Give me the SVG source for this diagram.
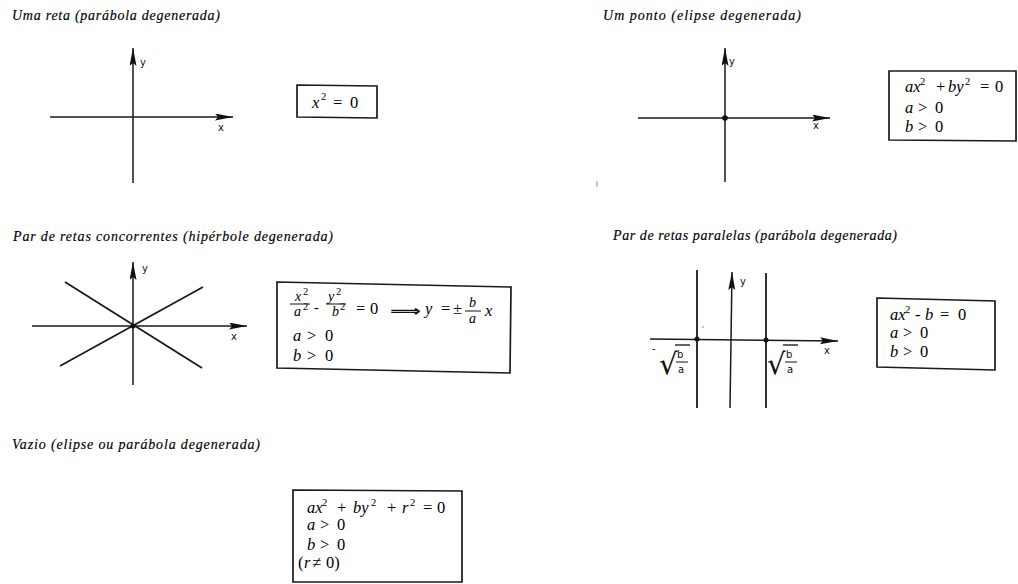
<svg xmlns="http://www.w3.org/2000/svg" width="1018" height="584" viewBox="0 0 1018 584">
<style>
.ax{stroke:#1a1a1a;stroke-width:1.5;fill:none}
.ln{stroke:#1a1a1a;stroke-width:1.8;fill:none}
.box{fill:none;stroke:#1a1a1a;stroke-width:1.7}
.title{font-family:"Liberation Serif",serif;font-style:italic;font-size:14px;fill:#000;stroke:#000;stroke-width:0.15}
.m{font-family:"Liberation Serif",serif;font-size:16.5px;fill:#000}
.i{font-style:italic}
.sup{font-size:10.5px}
.fr{font-family:"Liberation Serif",serif;font-size:14px;fill:#000}
.lbl{font-family:"DejaVu Sans",sans-serif;font-size:10px;fill:#111}
.dot{fill:#111}
</style>
<defs>
<marker id="ah" markerUnits="userSpaceOnUse" markerWidth="19" markerHeight="8" refX="18" refY="3.5" orient="auto">
<path d="M0,0 L18,3.5 L0,7 L3,3.5 z" fill="#111"/>
</marker>
</defs>

<g id="reta">
<text class="title" x="12" y="20" textLength="208" lengthAdjust="spacing">Uma reta (parábola degenerada)</text>
<line class="ax" x1="133" y1="183" x2="133" y2="48" marker-end="url(#ah)"/>
<line class="ax" x1="50" y1="117" x2="233" y2="117" marker-end="url(#ah)"/>
<text class="lbl" x="140" y="66">y</text>
<text class="lbl" x="218" y="131">x</text>
<polygon class="box" points="297,85 377,86 377,118 297,117"/>
<text class="m"><tspan class="i" x="312" y="108">x</tspan><tspan class="sup" x="321" y="100">2</tspan><tspan x="333" y="108">=</tspan><tspan x="350" y="108">0</tspan></text>
</g>

<g id="ponto">
<text class="title" x="603" y="20" textLength="198" lengthAdjust="spacing">Um ponto (elipse degenerada)</text>
<line class="ax" x1="725" y1="182" x2="725" y2="48" marker-end="url(#ah)"/>
<line class="ax" x1="638" y1="118" x2="830" y2="118" marker-end="url(#ah)"/>
<circle class="dot" cx="725" cy="118" r="2.8"/>
<text class="lbl" x="729" y="65">y</text>
<text class="lbl" x="813" y="129">x</text>
<line x1="597" y1="181" x2="597" y2="187" stroke="#999" stroke-width="1"/>
<polygon class="box" points="889,71 1016,71 1016,141 889,140"/>
<text class="m"><tspan class="i" x="905" y="92">ax</tspan><tspan class="sup" x="920" y="85">2</tspan><tspan x="936" y="92">+</tspan><tspan class="i" x="948" y="92">by</tspan><tspan class="sup" x="965" y="85">2</tspan><tspan x="980" y="92">=</tspan><tspan x="995" y="92">0</tspan></text>
<text class="m"><tspan class="i" x="905" y="113">a</tspan><tspan x="918" y="113">&gt;</tspan><tspan x="935" y="113">0</tspan></text>
<text class="m"><tspan class="i" x="905" y="132">b</tspan><tspan x="918" y="132">&gt;</tspan><tspan x="935" y="132">0</tspan></text>
</g>

<g id="concorrentes">
<text class="title" x="13" y="241" textLength="320" lengthAdjust="spacing">Par de retas concorrentes (hipérbole degenerada)</text>
<line class="ax" x1="133" y1="385" x2="133" y2="262" marker-end="url(#ah)"/>
<line class="ax" x1="32" y1="326" x2="247" y2="326" marker-end="url(#ah)"/>
<line class="ln" x1="65" y1="282" x2="202" y2="368"/>
<line class="ln" x1="60" y1="366" x2="203" y2="287"/>
<circle class="dot" cx="133" cy="326" r="2.5"/>
<text class="lbl" x="142" y="272">y</text>
<text class="lbl" x="231" y="340">x</text>
<polygon class="box" points="277,282 511,287 510,373 277,368"/>
<text class="fr"><tspan class="i" x="295" y="301">x</tspan><tspan class="sup" x="303" y="295">2</tspan></text>
<line x1="290" y1="304" x2="310" y2="304" stroke="#111" stroke-width="1"/>
<text class="fr"><tspan class="i" x="294" y="316">a</tspan><tspan class="sup" x="303" y="310">2</tspan></text>
<text class="fr" x="314" y="312">-</text>
<text class="fr"><tspan class="i" x="328" y="301">y</tspan><tspan class="sup" x="336" y="295">2</tspan></text>
<line x1="326" y1="304" x2="346" y2="304" stroke="#111" stroke-width="1"/>
<text class="fr"><tspan class="i" x="332" y="316">b</tspan><tspan class="sup" x="340" y="310">2</tspan></text>
<text class="m"><tspan x="356" y="314">=</tspan><tspan x="370" y="314">0</tspan></text>
<text x="390" y="316" font-family="DejaVu Sans,sans-serif" font-size="15" font-weight="bold" fill="#111" textLength="31" lengthAdjust="spacingAndGlyphs">⟹</text>
<text class="m"><tspan class="i" x="425" y="314">y</tspan><tspan x="441" y="314">=</tspan><tspan x="453" y="314">±</tspan></text>
<text class="fr"><tspan class="i" x="469" y="307">b</tspan><tspan class="i" x="469" y="323">a</tspan></text>
<line x1="465" y1="311" x2="481" y2="311" stroke="#111" stroke-width="1"/>
<text class="m"><tspan class="i" x="485" y="316">x</tspan></text>
<text class="m"><tspan class="i" x="293" y="341">a</tspan><tspan x="307" y="341">&gt;</tspan><tspan x="325" y="341">0</tspan></text>
<text class="m"><tspan class="i" x="293" y="361">b</tspan><tspan x="307" y="361">&gt;</tspan><tspan x="325" y="361">0</tspan></text>
</g>

<g id="paralelas">
<text class="title" x="613" y="240" textLength="284" lengthAdjust="spacing">Par de retas paralelas (parábola degenerada)</text>
<line class="ax" x1="730" y1="408" x2="732" y2="272" marker-end="url(#ah)"/>
<line class="ax" x1="650" y1="339" x2="838" y2="341" marker-end="url(#ah)"/>
<line class="ln" x1="697" y1="270" x2="697" y2="408"/>
<line class="ln" x1="766" y1="273" x2="766" y2="408"/>
<circle class="dot" cx="697" cy="339" r="2.5"/>
<circle class="dot" cx="766" cy="340" r="2.5"/>
<circle cx="703" cy="327" r="0.8" fill="#888"/>
<text class="lbl" x="740" y="285">y</text>
<text class="lbl" x="824" y="354">x</text>
<text class="lbl" x="652" y="352">-</text>
<text x="659" y="374" font-family="DejaVu Sans,sans-serif" font-size="29" fill="#111">√</text>
<line x1="675" y1="345" x2="690" y2="345" stroke="#111" stroke-width="1.3"/>
<text class="lbl" x="677" y="358">b</text>
<line x1="676" y1="362" x2="688" y2="362" stroke="#111" stroke-width="1"/>
<text class="lbl" x="678" y="373">a</text>
<text x="767" y="374" font-family="DejaVu Sans,sans-serif" font-size="29" fill="#111">√</text>
<line x1="783" y1="345" x2="798" y2="345" stroke="#111" stroke-width="1.3"/>
<text class="lbl" x="786" y="358">b</text>
<line x1="785" y1="362" x2="797" y2="362" stroke="#111" stroke-width="1"/>
<text class="lbl" x="787" y="373">a</text>
<polygon class="box" points="877,298 995,301 995,370 877,367"/>
<text class="m"><tspan class="i" x="890" y="320">ax</tspan><tspan class="sup" x="905" y="313">2</tspan><tspan x="915" y="320">-</tspan><tspan class="i" x="925" y="320">b</tspan><tspan x="940" y="320">=</tspan><tspan x="958" y="320">0</tspan></text>
<text class="m"><tspan class="i" x="890" y="338">a</tspan><tspan x="903" y="338">&gt;</tspan><tspan x="920" y="338">0</tspan></text>
<text class="m"><tspan class="i" x="890" y="357">b</tspan><tspan x="903" y="357">&gt;</tspan><tspan x="920" y="357">0</tspan></text>
</g>

<g id="vazio">
<text class="title" x="12" y="449" textLength="248" lengthAdjust="spacing">Vazio (elipse ou parábola degenerada)</text>
<polygon class="box" points="293,490 462,491 462,582 293,582"/>
<text class="m"><tspan class="i" x="307" y="513">ax</tspan><tspan class="sup" x="322" y="506">2</tspan><tspan x="337" y="513">+</tspan><tspan class="i" x="353" y="513">by</tspan><tspan class="sup" x="371" y="506">2</tspan><tspan x="387" y="513">+</tspan><tspan class="i" x="402" y="513">r</tspan><tspan class="sup" x="410" y="506">2</tspan><tspan x="423" y="513">=</tspan><tspan x="437" y="513">0</tspan></text>
<text class="m"><tspan class="i" x="307" y="530">a</tspan><tspan x="320" y="530">&gt;</tspan><tspan x="337" y="530">0</tspan></text>
<text class="m"><tspan class="i" x="307" y="550">b</tspan><tspan x="320" y="550">&gt;</tspan><tspan x="337" y="550">0</tspan></text>
<text class="m"><tspan x="298" y="568">(</tspan><tspan class="i" x="304" y="568">r</tspan><tspan x="312" y="568">≠</tspan><tspan x="326" y="568">0)</tspan></text>
</g>
</svg>
